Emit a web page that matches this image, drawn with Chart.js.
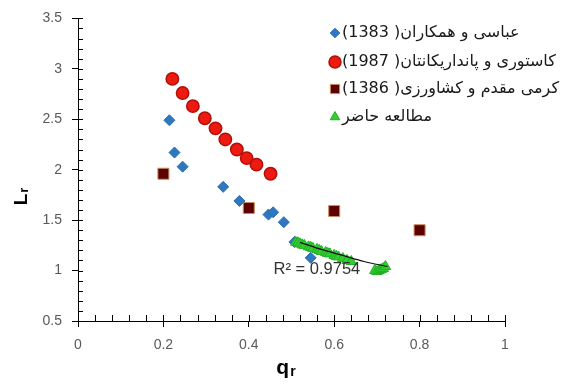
<!DOCTYPE html>
<html>
<head>
<meta charset="utf-8">
<script src="https://cdn.jsdelivr.net/npm/chart.js@4/dist/chart.umd.min.js"></script>
<style>
  html, body { margin: 0; padding: 0; background: #fff; }
  #wrap { width: 566px; height: 385px; }
</style>
</head>
<body>
<div id="wrap"><canvas id="c" width="566" height="385"></canvas></div>
<script>
// ---- data ----
const seriesLabels = [
  'عباسی و همکاران( 1383)',
  'کاستوری و پانداریکانتان( 1987)',
  'کرمی مقدم و کشاورزی( 1386)',
  'مطالعه حاضر'
];
const abbasiX = [0.214, 0.226, 0.245, 0.340, 0.378, 0.446, 0.457, 0.482, 0.507, 0.545];
const abbasiY = [2.49, 2.17, 2.03, 1.83, 1.69, 1.555, 1.578, 1.48, 1.284, 1.126];
const kastX = [0.221, 0.245, 0.269, 0.297, 0.322, 0.345, 0.372, 0.395, 0.418, 0.451];
const kastY = [2.90, 2.76, 2.63, 2.51, 2.41, 2.30, 2.20, 2.115, 2.05, 1.96];
const karamiX = [0.2, 0.4, 0.6, 0.8];
const karamiY = [1.96, 1.62, 1.59, 1.40];
const presentX = [0.510, 0.515, 0.520, 0.525, 0.530, 0.540, 0.545, 0.550, 0.560, 0.565, 0.570, 0.580, 0.585, 0.590, 0.600, 0.605, 0.610, 0.620, 0.630, 0.640, 0.695, 0.700, 0.705, 0.710, 0.715, 0.720];
const presentY = [1.28, 1.275, 1.265, 1.255, 1.25, 1.235, 1.23, 1.22, 1.21, 1.20, 1.19, 1.18, 1.17, 1.165, 1.15, 1.14, 1.135, 1.12, 1.10, 1.09, 1.00, 0.99, 1.00, 1.01, 1.02, 1.04];
const trendX = [0.52, 0.57, 0.62, 0.67, 0.725];
const trendY = [1.28, 1.21, 1.15, 1.09, 1.04];
const r2Label = 'R² = 0.9754';
const r2Pos = [0.458, 1.0];
const xTicks = [0, 0.2, 0.4, 0.6, 0.8, 1];
const yTicks = [0.5, 1, 1.5, 2, 2.5, 3, 3.5];
const xMinorStep = 0.04;
const yMinorStep = 0.1;

const zip = (xs, ys) => xs.map((x, i) => ({ x: x, y: ys[i] }));

const numFont = "'Liberation Sans', Arial, sans-serif";
const faFont = "'DejaVu Sans', sans-serif";

const minorTicksPlugin = {
  id: 'minorTicks',
  afterDraw(chart) {
    const ctx = chart.ctx, xs = chart.scales.x, ys = chart.scales.y;
    const left = chart.chartArea.left, bottom = chart.chartArea.bottom;
    ctx.save();
    ctx.strokeStyle = '#000';
    ctx.lineWidth = 1;
    ctx.beginPath();
    for (let v = ys.min; v <= ys.max + 1e-9; v += yMinorStep) {
      const p = Math.round(ys.getPixelForValue(v)) + 0.5;
      ctx.moveTo(left, p); ctx.lineTo(left + 5, p);
    }
    for (let v = xs.min; v <= xs.max + 1e-9; v += xMinorStep) {
      const p = Math.round(xs.getPixelForValue(v)) + 0.5;
      ctx.moveTo(p, bottom); ctx.lineTo(p, bottom - 6);
    }
    ctx.stroke();
    ctx.restore();
  }
};

const textPlugin = {
  id: 'texts',
  afterDraw(chart) {
    const ctx = chart.ctx, xs = chart.scales.x, ys = chart.scales.y;
    const ca = chart.chartArea;
    ctx.save();
    // R² label
    ctx.font = '16.5px ' + numFont;
    ctx.fillStyle = '#333';
    ctx.textBaseline = 'middle';
    ctx.textAlign = 'left';
    ctx.fillText(r2Label, xs.getPixelForValue(r2Pos[0]), ys.getPixelForValue(r2Pos[1]) - 1);

    // x title "qr"
    ctx.fillStyle = '#000';
    ctx.textBaseline = 'alphabetic';
    ctx.font = 'bold 21px ' + numFont;
    const qw = ctx.measureText('q').width;
    ctx.font = 'bold 14px ' + numFont;
    const rw = ctx.measureText('r').width;
    const cx = (ca.left + ca.right) / 2 - 6;
    let sx = cx - (qw + rw) / 2;
    ctx.font = 'bold 21px ' + numFont;
    ctx.fillText('q', sx, 374);
    ctx.font = 'bold 14px ' + numFont;
    ctx.fillText('r', sx + qw + 1, 376);

    // y title "Lr"
    ctx.save();
    ctx.translate(27, 197);
    ctx.rotate(-Math.PI / 2);
    ctx.font = 'bold 19px ' + numFont;
    const lw = ctx.measureText('L').width;
    ctx.font = 'bold 13px ' + numFont;
    const rw2 = ctx.measureText('r').width;
    const st = -(lw + rw2) / 2;
    ctx.font = 'bold 19px ' + numFont;
    ctx.fillText('L', st, 0);
    ctx.font = 'bold 13px ' + numFont;
    ctx.fillText('r', st + lw + 1, 1);
    ctx.restore();

    // legend
    const ys0 = [33, 62, 89, 117];
    const sizes = [4.8, 6, 6.5, 5.5];
    chart.data.datasets.forEach((ds, i) => {
      if (i > 3) return;
      const y = ys0[i];
      ctx.save();
      ctx.fillStyle = ds.backgroundColor;
      ctx.strokeStyle = ds.borderColor;
      ctx.lineWidth = ds.borderWidth;
      Chart.helpers.drawPoint(ctx, { pointStyle: ds.pointStyle, radius: sizes[i], rotation: 0, borderWidth: ds.borderWidth }, 335, y);
      ctx.restore();
      ctx.save();
      ctx.direction = 'rtl';
      ctx.textAlign = 'left';
      ctx.textBaseline = 'middle';
      ctx.font = '16px ' + faFont;
      ctx.fillStyle = '#1a1a1a';
      ctx.fillText(seriesLabels[i], 342, y);
      ctx.restore();
    });
    ctx.restore();
  }
};

new Chart(document.getElementById('c'), {
  type: 'scatter',
  data: {
    datasets: [
      {
        label: seriesLabels[0], data: zip(abbasiX, abbasiY),
        pointStyle: 'rectRot', pointRadius: 5.5, pointHoverRadius: 5.5,
        backgroundColor: '#2f78c0', borderColor: '#2a6db0', borderWidth: 1, order: 3
      },
      {
        label: seriesLabels[1], data: zip(kastX, kastY),
        pointStyle: 'circle', pointRadius: 6.2, pointHoverRadius: 6.2,
        backgroundColor: '#ec1a10', borderColor: '#b01008', borderWidth: 1.5, order: 4
      },
      {
        label: seriesLabels[2], data: zip(karamiX, karamiY),
        pointStyle: 'rect', pointRadius: 7.8, pointHoverRadius: 7.8,
        backgroundColor: '#5c0000', borderColor: '#c89060', borderWidth: 1, order: 5
      },
      {
        label: seriesLabels[3], data: zip(presentX, presentY),
        pointStyle: 'triangle', pointRadius: 6, pointHoverRadius: 6,
        backgroundColor: '#33cc33', borderColor: '#22b022', borderWidth: 1, order: 2
      },
      {
        label: 'trend', type: 'line', data: zip(trendX, trendY),
        borderColor: '#111', borderWidth: 1.2, pointRadius: 0, showLine: true,
        fill: false, tension: 0.3, order: 1
      }
    ]
  },
  options: {
    responsive: false,
    animation: false,
    layout: { padding: { top: 17, right: 61, left: 0, bottom: 0 } },
    plugins: { legend: { display: false }, tooltip: { enabled: false } },
    scales: {
      x: {
        type: 'linear', min: 0, max: 1,
        afterBuildTicks: (s) => { s.ticks = xTicks.map(v => ({ value: v })); },
        afterFit: (s) => { s.height = 64; },
        ticks: { color: '#595959', font: { family: numFont, size: 14 }, padding: 10, callback: (v) => String(v) },
        grid: { drawOnChartArea: false, drawTicks: true, tickLength: 6, color: '#000' },
        border: { display: true, color: '#000', width: 1 }
      },
      y: {
        type: 'linear', min: 0.5, max: 3.5,
        afterBuildTicks: (s) => { s.ticks = yTicks.map(v => ({ value: v })); },
        afterFit: (s) => { s.width = 78; },
        ticks: { color: '#595959', font: { family: numFont, size: 14 }, padding: 10, callback: (v) => String(v) },
        grid: { drawOnChartArea: false, drawTicks: true, tickLength: 6, color: '#000' },
        border: { display: true, color: '#000', width: 1 }
      }
    }
  },
  plugins: [minorTicksPlugin, textPlugin]
});
</script>
</body>
</html>
